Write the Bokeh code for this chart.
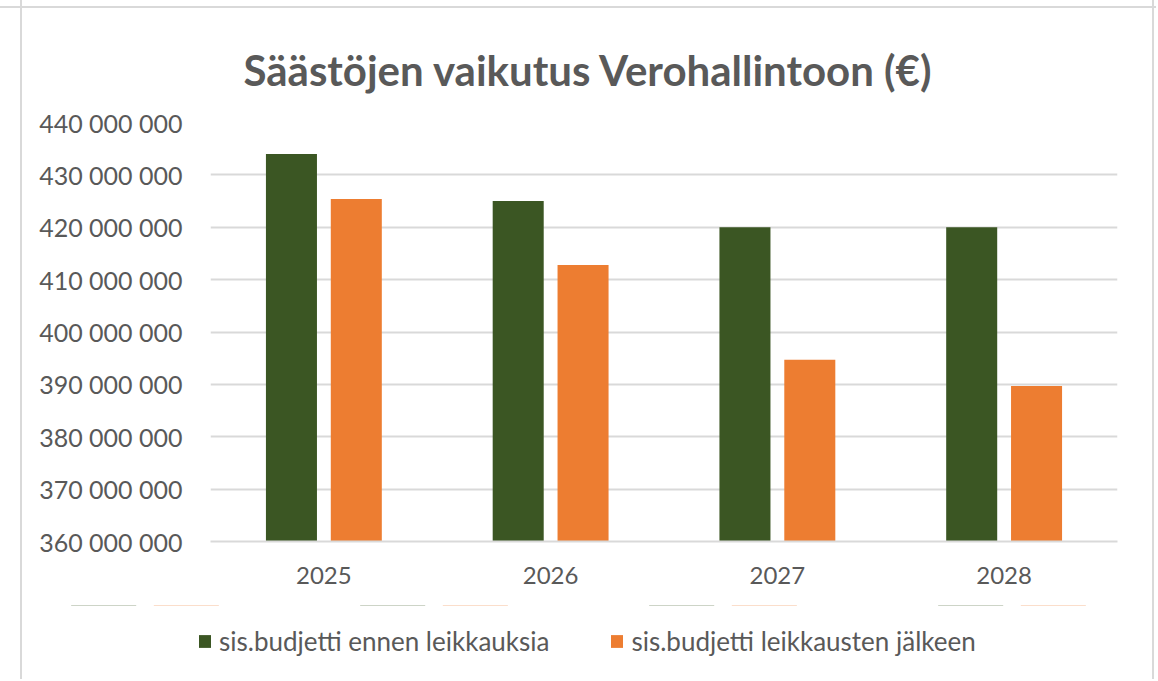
from bokeh.plotting import figure
from bokeh.layouts import column
from bokeh.models import (FactorRange, Range1d, FixedTicker, Legend, LegendItem,
                          ColumnDataSource, Title)
from bokeh.transform import dodge
from bokeh.embed import file_html
from bokeh.resources import INLINE

years = ["2025", "2026", "2027", "2028"]
series_names = ["sis.budjetti ennen leikkauksia", "sis.budjetti leikkausten jälkeen"]
before_cuts = [434.0e6, 425.0e6, 420.0e6, 420.0e6]
after_cuts = [425.4e6, 412.8e6, 394.7e6, 389.7e6]
y_ticks = [360e6, 370e6, 380e6, 390e6, 400e6, 410e6, 420e6, 430e6, 440e6]
y_tick_labels = ["360 000 000", "370 000 000", "380 000 000", "390 000 000", "400 000 000",
                 "410 000 000", "420 000 000", "430 000 000", "440 000 000"]
title_text = "Säästöjen vaikutus Verohallintoon (€)"

FONT = "Lato"
TXT = "#595959"
GRID = "#d9d9d9"
GREEN = "#3b5623"
ORANGE = "#ed7d31"

src = ColumnDataSource(dict(year=years, before=before_cuts, after=after_cuts))

W = 1156
H1 = 605
H2 = 74
p = figure(width=W, height=H1, output_backend="svg", toolbar_location=None,
           x_range=FactorRange(*years, range_padding=0),
           y_range=Range1d(y_ticks[0], y_ticks[-1]),
           min_border_left=210, min_border_right=39, min_border_top=122, min_border_bottom=H1 - 541,
           outline_line_color=None, background_fill_color="white",
           border_fill_alpha=0)

t = Title(text=title_text, align="left", offset=33, text_font=FONT, text_font_size="42px",
          text_font_style="bold", text_color=TXT, standoff=55)
p.add_layout(t, "above")

floor = y_ticks[0]
r1 = p.vbar(x=dodge("year", -0.143, range=p.x_range), top="before", bottom=floor, width=0.225,
            source=src, fill_color=GREEN, line_color=None)
r2 = p.vbar(x=dodge("year", 0.143, range=p.x_range), top="after", bottom=floor, width=0.225,
            source=src, fill_color=ORANGE, line_color=None)

# axes
p.yaxis.ticker = FixedTicker(ticks=y_ticks)
p.yaxis.major_label_overrides = {t_: l for t_, l in zip(y_ticks, y_tick_labels)}
p.yaxis.axis_line_color = None
p.yaxis.major_tick_line_color = None
p.yaxis.minor_tick_line_color = None
p.yaxis.major_label_text_font = FONT
p.yaxis.major_label_text_font_size = "25px"
p.yaxis.major_label_text_color = TXT
p.yaxis.major_label_standoff = 22

p.xaxis.axis_line_color = GRID
p.xaxis.axis_line_width = 2
p.xaxis.major_tick_line_color = None
p.xaxis.minor_tick_line_color = None
p.xaxis.major_label_text_font = FONT
p.xaxis.major_label_text_font_size = "24px"
p.xaxis.major_label_text_color = TXT
p.xaxis.major_label_standoff = 19

p.xgrid.grid_line_color = None
p.ygrid.grid_line_color = GRID
p.ygrid.grid_line_width = 2

# legend strip below the chart (its swatches come from the same data, kept outside the strip's view)
lg = figure(width=W, height=H2, output_backend="svg", toolbar_location=None,
            x_range=FactorRange(*years, range_padding=0),
            y_range=Range1d(floor - 60e6, floor - 20e6),
            x_axis_location=None, y_axis_location=None,
            min_border=0, outline_line_color=None,
            background_fill_alpha=0, border_fill_alpha=0)
lg.xgrid.visible = False
lg.ygrid.visible = False
legend_x = 0
try:
    lg.frame_align = False
    p.frame_align = False
    legend_x = 197
except Exception:
    legend_x = 0
s1 = lg.vbar(x=dodge("year", -0.143, range=lg.x_range), top="before", bottom=floor, width=0.225,
             source=src, fill_color=GREEN, line_color=None)
s2 = lg.vbar(x=dodge("year", 0.143, range=lg.x_range), top="after", bottom=floor, width=0.225,
             source=src, fill_color=ORANGE, line_color=None)
legend = Legend(items=[LegendItem(label=series_names[0], renderers=[s1]),
                       LegendItem(label=series_names[1], renderers=[s2])],
                orientation="horizontal", location=(legend_x, 22),
                label_text_font=FONT, label_text_font_size="26px", label_text_color=TXT,
                glyph_width=15, glyph_height=16, spacing=60, label_standoff=7,
                border_line_color=None, background_fill_alpha=0, margin=0, padding=0)
lg.add_layout(legend, "center")

layout = column(p, lg, spacing=0)
layout.styles = {
    "background": ("linear-gradient(to right, transparent 20px, #d9d9d9 20px, #d9d9d9 22px, transparent 22px), "
                   "linear-gradient(to left, transparent 2px, #d9d9d9 2px, #d9d9d9 4px, transparent 4px), "
                   "linear-gradient(to bottom, transparent 6px, #d9d9d9 6px, #d9d9d9 8px, transparent 8px)"),
}

open("out.html", "w").write(file_html(layout, INLINE))
